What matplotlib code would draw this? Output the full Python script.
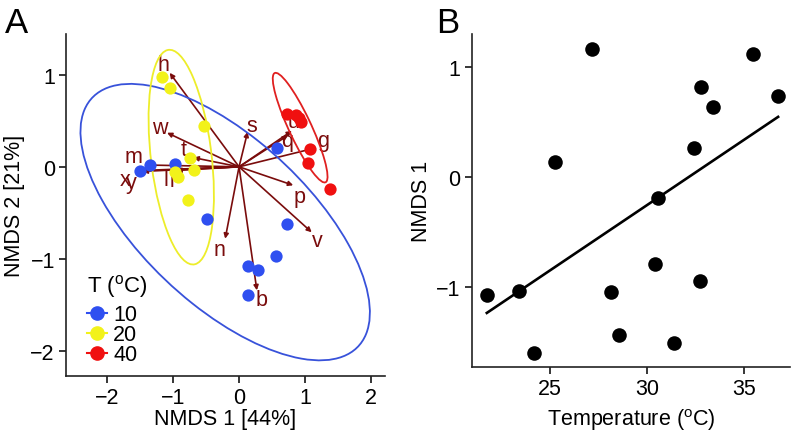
import numpy as np
import matplotlib
matplotlib.use("Agg")
import matplotlib.pyplot as plt
from matplotlib.patches import Ellipse
from matplotlib.lines import Line2D

plt.rcParams["font.family"] = ["Liberation Sans", "DejaVu Sans"]
plt.rcParams["mathtext.fontset"] = "custom"
plt.rcParams["mathtext.rm"] = "Liberation Sans"

# --- panel A: NMDS ordination ---
blue_x = [-1.50, -1.35, -0.97, 0.58, -0.48, 0.73, 0.56, 0.14, 0.28, 0.14]
blue_y = [-0.04, 0.02, 0.03, 0.20, -0.57, -0.62, -0.97, -1.08, -1.12, -1.39]
yellow_x = [-1.16, -1.04, -0.53, -0.75, -0.68, -0.97, -0.93, -0.78]
yellow_y = [0.97, 0.85, 0.44, 0.095, -0.03, -0.06, -0.11, -0.36]
red_x = [0.72, 0.86, 0.91, 0.94, 1.07, 1.04, 1.37]
red_y = [0.57, 0.56, 0.53, 0.49, 0.19, 0.04, -0.24]

# ellipse centre and covariance (xx, yy, xy) per temperature group
ell_blue = ([-0.21, -0.60], [4.80, 2.25, -2.15])
ell_yellow = ([-0.875, 0.105], [0.245, 1.357, -0.205])
ell_red = ([0.925, 0.425], [0.172, 0.354, -0.22])

# species vectors: name, tip x, tip y, label x, label y
arrow_names = ["h", "w", "s", "u", "q", "g", "t", "m", "x", "y", "l", "i", "p", "v", "n", "b"]
arrow_x = [-1.05, -1.09, 0.13, 0.80, 0.74, 1.13, -0.69, -1.42, -1.48, -1.46, -1.00, -0.95, 0.82, 1.10, -0.21, 0.27]
arrow_y = [1.02, 0.37, 0.38, 0.39, 0.34, 0.20, 0.10, 0.02, -0.04, -0.05, -0.03, -0.04, -0.20, -0.71, -0.78, -1.34]
label_x = [-1.15, -1.20, 0.20, 0.82, 0.73, 1.28, -0.84, -1.60, -1.73, -1.63, -1.10, -1.02, 0.91, 1.18, -0.29, 0.34]
label_y = [1.11, 0.43, 0.45, 0.49, 0.29, 0.29, 0.19, 0.11, -0.14, -0.17, -0.14, -0.15, -0.32, -0.80, -0.90, -1.44]

# --- panel B: NMDS 1 vs temperature ---
temp = [21.73, 23.40, 24.19, 25.26, 27.16, 28.14, 28.57, 30.41,
        30.55, 31.41, 32.45, 32.72, 32.81, 33.42, 35.49, 36.78]
nmds1 = [-1.07, -1.034, -1.594, 0.136, 1.166, -1.043, -1.43, -0.791,
         -0.191, -1.506, 0.266, -0.945, 0.824, 0.642, 1.115, 0.736]

C_BLUE, C_YEL, C_RED = "#2F4FF0", "#F2F21A", "#F01010"
C_ARROW = "#7A0C0C"

fig = plt.figure(figsize=(7.96, 4.39), dpi=100)
axA = fig.add_axes([0.0829, 0.1412, 0.4008, 0.7788])
axB = fig.add_axes([0.5926, 0.161, 0.4, 0.759])


def style(ax):
    for side in ("top", "right"):
        ax.spines[side].set_visible(False)
    for side in ("left", "bottom"):
        ax.spines[side].set_linewidth(1.2)
        ax.spines[side].set_color("#222222")
    ax.tick_params(direction="out", length=5, width=1.1, labelsize=15.5, pad=3)


def draw_ellipse(ax, centre, cov, color):
    S = np.array([[cov[0], cov[2]], [cov[2], cov[1]]])
    vals, vecs = np.linalg.eigh(S)
    angle = np.degrees(np.arctan2(vecs[1, 1], vecs[0, 1]))
    ax.add_patch(Ellipse(centre, 2 * np.sqrt(vals[1]), 2 * np.sqrt(vals[0]),
                         angle=angle, fill=False, edgecolor=color, lw=1.3, zorder=4))


style(axA)
for name, tx, ty in zip(arrow_names, arrow_x, arrow_y):
    axA.annotate("", xy=(tx, ty), xytext=(0, 0),
                 arrowprops=dict(arrowstyle="-|>", color=C_ARROW, lw=1.2,
                                 mutation_scale=7, shrinkA=0, shrinkB=0), zorder=2)
for name, lx, ly in zip(arrow_names, label_x, label_y):
    axA.text(lx, ly, name, color=C_ARROW, fontsize=15.5, ha="center", va="center", zorder=3)

axA.scatter(blue_x, blue_y, s=78, color=C_BLUE, zorder=5, linewidths=0)
axA.scatter(yellow_x, yellow_y, s=78, color=C_YEL, zorder=5, linewidths=0)
axA.scatter(red_x, red_y, s=78, color=C_RED, zorder=5, linewidths=0)
draw_ellipse(axA, *ell_blue, "#3852DA")
draw_ellipse(axA, *ell_yellow, "#EDED2A")
draw_ellipse(axA, *ell_red, "#E02020")

axA.set_xlim(-2.62, 2.21)
axA.set_ylim(-2.27, 1.44)
axA.set_xticks([-2, -1, 0, 1, 2])
axA.set_yticks([-2, -1, 0, 1])
axA.set_xlabel("NMDS 1 [44%]", fontsize=15.5, labelpad=0)
axA.set_ylabel("NMDS 2 [21%]", fontsize=15.5, labelpad=4)

handles = [Line2D([], [], color=c, marker="o", ms=9.5, lw=1.5, mec=c)
           for c in (C_BLUE, C_YEL, C_RED)]
axA.legend(handles, ["10", "20", "40"], loc="lower left",
           bbox_to_anchor=(0.02, -0.012), frameon=False,
           fontsize=15.5, handlelength=0.9, handletextpad=0.3,
           labelspacing=-0.05, borderpad=0.2)
axA.text(0.066, 0.265, r"T ($^{\mathregular{o}}$C)", transform=axA.transAxes,
         fontsize=16, ha="left", va="center")

# panel B
style(axB)
axB.scatter(temp, nmds1, s=110, color="black", zorder=3, linewidths=0)
slope, icpt = np.polyfit(temp, nmds1, 1)
xs = np.array([min(temp), max(temp)])
axB.plot(xs, slope * xs + icpt, color="black", lw=1.9, zorder=2)
axB.set_xlim(20.95, 37.4)
axB.set_ylim(-1.727, 1.30)
axB.set_xticks([25, 30, 35])
axB.set_yticks([-1, 0, 1])
axB.set_xlabel(r"Temperature ($^{\mathregular{o}}$C)", fontsize=15.5, labelpad=5)
axB.set_ylabel("NMDS 1", fontsize=15.5, labelpad=3)

fig.text(0.006, 0.925, "A", fontsize=25, ha="left", va="baseline")
fig.text(0.548, 0.925, "B", fontsize=25, ha="left", va="baseline")

fig.savefig("out.png", dpi=100)
